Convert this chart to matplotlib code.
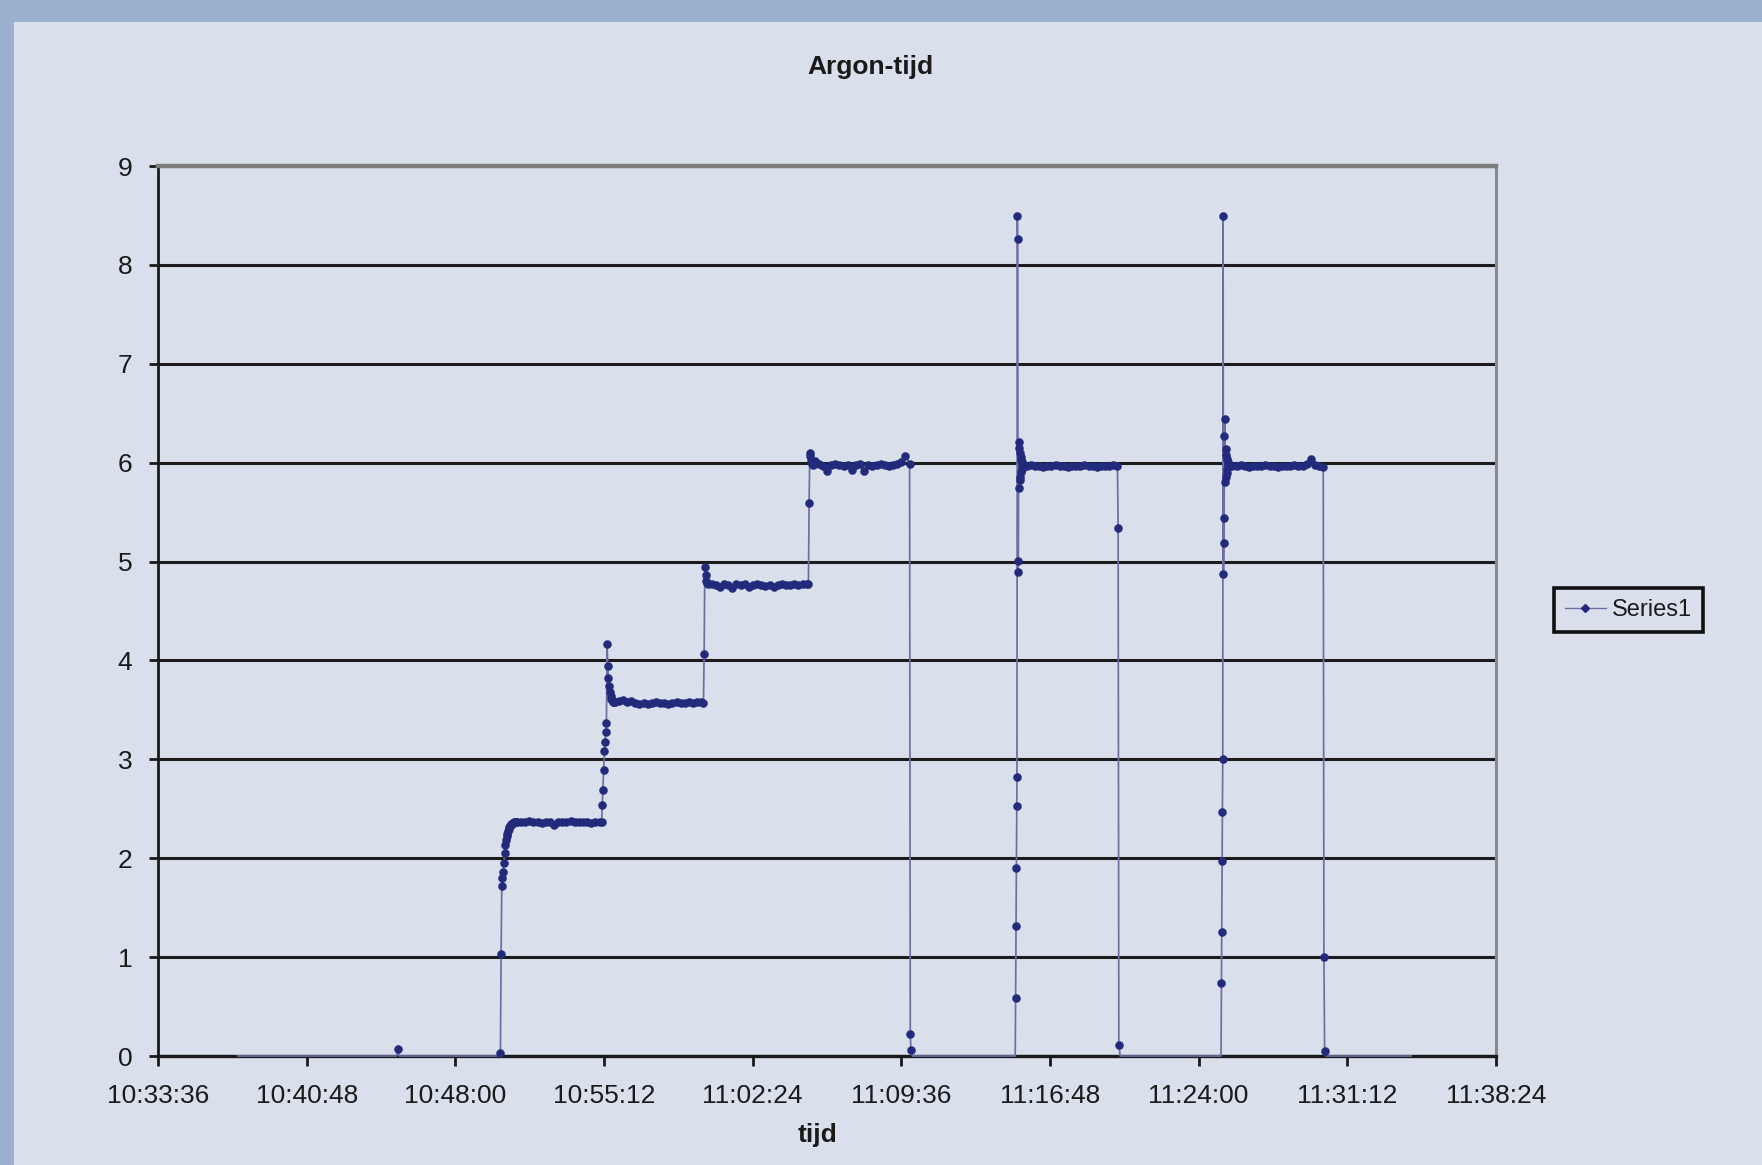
import matplotlib
matplotlib.use("Agg")
import matplotlib.pyplot as plt
from matplotlib.ticker import FixedLocator, FuncFormatter
from matplotlib.patches import Rectangle
from matplotlib.lines import Line2D
import numpy as np

# ---------------- data (Argon reading vs. tijd) ----------------
# sparse parts: explicit sample times
basis_tijd = ["10:37:28", "10:45:09", "10:45:13", "10:45:17", "10:50:09"]
basis_argon = [0.0, 0.0, 0.07, 0.0, 0.0]
val1_tijd = ["11:10:02", "11:10:04", "11:10:08", "11:15:07"]
val1_argon = [0.22, 0.06, 0.0, 0.0]
val2_tijd = ["11:20:06", "11:20:08", "11:20:12", "11:25:05"]
val2_argon = [5.34, 0.11, 0.0, 0.0]
val3_tijd = ["11:30:04", "11:30:06", "11:30:10", "11:34:17"]
val3_argon = [1.00, 0.05, 0.0, 0.0]

# dense parts: start time, logger interval (s), readings
stap1_start, stap1_dt = "10:50:11", 2
stap1_argon = [0.03, 1.03, 1.72, 1.80, 1.86, 1.95, 2.05, 2.13, 2.18, 2.22, 2.25, 2.28,
               2.30, 2.32, 2.33, 2.34, 2.35, 2.35, 2.36, 2.36, 2.37, 2.37, 2.37, 2.37, 2.37]
plat1_start, plat1_dt = "10:51:11", 12
plat1_argon = [2.37, 2.37, 2.38, 2.37, 2.37, 2.36, 2.37, 2.37, 2.34, 2.37,
               2.37, 2.37, 2.38, 2.37, 2.37, 2.37, 2.37, 2.36, 2.37, 2.37]

stap2_start, stap2_dt = "10:55:05", 2
stap2_argon = [2.37, 2.54, 2.69, 2.89, 3.08, 3.18, 3.28, 3.37, 4.17, 3.94,
               3.82, 3.74, 3.68, 3.64, 3.61, 3.60, 3.59, 3.58, 3.58, 3.58]
plat2_start, plat2_dt = "10:55:55", 12
plat2_argon = [3.59, 3.60, 3.58, 3.59, 3.57, 3.56, 3.57, 3.56, 3.57, 3.58, 3.57,
               3.57, 3.56, 3.57, 3.58, 3.57, 3.57, 3.58, 3.57, 3.58, 3.58]

stap3_start, stap3_dt = "11:00:01", 2
stap3_argon = [3.57, 4.07, 4.95, 4.86, 4.80, 4.78, 4.77]
plat3_start, plat3_dt = "11:00:25", 12
plat3_argon = [4.77, 4.76, 4.74, 4.77, 4.76, 4.73, 4.77, 4.76, 4.77, 4.74, 4.76, 4.77,
               4.76, 4.75, 4.76, 4.74, 4.76, 4.77, 4.76, 4.76, 4.77, 4.76, 4.77, 4.77]

stap4_start, stap4_dt = "11:05:06", 2
stap4_argon = [4.77, 5.59, 6.10, 6.07, 6.02, 5.99, 5.98]
plat4_start, plat4_dt = "11:05:24", 12
plat4_argon = [6.02, 5.99, 5.97, 5.92, 5.98, 5.99, 5.98, 5.97, 5.98, 5.93, 5.98, 5.99,
               5.92, 5.98, 5.97, 5.98, 5.99, 5.98, 5.97, 5.98, 5.99, 6.01, 6.07, 5.99]

piek1_start, piek1_dt = "11:15:08", 1
piek1_argon = [0.59, 1.31, 1.90, 2.53, 2.82, 8.49, 8.26, 4.89, 5.01, 6.21, 5.74, 6.15,
               5.82, 6.10, 5.86, 6.06, 5.91, 6.03, 5.94, 6.01, 5.97, 5.99, 5.97]
plat5_start, plat5_dt = "11:15:40", 12
plat5_argon = [5.97, 5.98, 5.97, 5.97, 5.96, 5.97, 5.97, 5.98, 5.97, 5.97, 5.96, 5.97,
               5.97, 5.97, 5.98, 5.97, 5.97, 5.96, 5.97, 5.97, 5.97, 5.98, 5.97]

piek2_start, piek2_dt = "11:25:06", 1
piek2_argon = [0.74, 1.25, 1.97, 2.47, 3.00, 8.49, 4.87, 5.19, 5.44, 6.27, 6.44,
               5.80, 6.14, 5.86, 6.08, 5.90, 6.04, 5.94, 6.01, 5.97, 5.99, 5.97]
plat6_start, plat6_dt = "11:25:38", 12
plat6_argon = [5.97, 5.97, 5.98, 5.97, 5.96, 5.97, 5.97, 5.97, 5.98, 5.97, 5.97, 5.96,
               5.97, 5.97, 5.97, 5.98, 5.97, 5.97, 5.99, 6.04, 5.98, 5.97, 5.96]

x_tick_labels = ["10:33:36", "10:40:48", "10:48:00", "10:55:12", "11:02:24",
                 "11:09:36", "11:16:48", "11:24:00", "11:31:12", "11:38:24"]
y_ticks = [0, 1, 2, 3, 4, 5, 6, 7, 8, 9]
title_text = "Argon-tijd"
x_title = "tijd"
series_name = "Series1"


# ---------------- assemble ----------------
def hms(s):
    h, m, sec = map(int, s.split(":"))
    return h * 3600 + m * 60 + sec


def fmt_hms(x, pos=None):
    x = int(round(x))
    return f"{x // 3600}:{(x % 3600) // 60:02d}:{x % 60:02d}"


times, values = [], []
for tl, vl in [(basis_tijd, basis_argon), (val1_tijd, val1_argon),
               (val2_tijd, val2_argon), (val3_tijd, val3_argon)]:
    times += [hms(t) for t in tl]
    values += list(vl)
for st, dt, vl in [(stap1_start, stap1_dt, stap1_argon), (plat1_start, plat1_dt, plat1_argon),
                   (stap2_start, stap2_dt, stap2_argon), (plat2_start, plat2_dt, plat2_argon),
                   (stap3_start, stap3_dt, stap3_argon), (plat3_start, plat3_dt, plat3_argon),
                   (stap4_start, stap4_dt, stap4_argon), (plat4_start, plat4_dt, plat4_argon),
                   (piek1_start, piek1_dt, piek1_argon), (plat5_start, plat5_dt, plat5_argon),
                   (piek2_start, piek2_dt, piek2_argon), (plat6_start, plat6_dt, plat6_argon)]:
    t0 = hms(st)
    times += [t0 + i * dt for i in range(len(vl))]
    values += list(vl)

order = np.argsort(times, kind="stable")
t_arr = np.array(times, dtype=float)[order]
v_arr = np.array(values, dtype=float)[order]

# ---------------- figure ----------------
plt.rcParams["font.family"] = ["Liberation Sans", "DejaVu Sans"]
W, H = 1762, 1165
BORDER = "#9BB0CE"
PANEL = "#D9E0EC"
LINE_C = "#6e6ea2"
MARK_C = "#222a7c"

fig = plt.figure(figsize=(W / 100, H / 100), dpi=100, facecolor=BORDER)
fig.patches.append(Rectangle((13.5 / W, 0), 1 - 13.5 / W, 1 - 22 / H,
                             transform=fig.transFigure, facecolor=PANEL,
                             edgecolor="none", zorder=-10))

ax = fig.add_axes([158 / W, 1 - 1056 / H, (1496 - 158) / W, (1056 - 166) / H])
ax.set_zorder(1)
ax.set_facecolor(PANEL)

ax.plot(t_arr, v_arr, color=LINE_C, lw=1.25, marker="o", markersize=5.8,
        markerfacecolor=MARK_C, markeredgecolor=MARK_C, markeredgewidth=0.3,
        markevery=list(v_arr > 0.02), zorder=3, clip_on=False)

x_ticks = [hms(s) for s in x_tick_labels]
ax.set_xlim(x_ticks[0], x_ticks[-1])
ax.set_ylim(y_ticks[0], y_ticks[-1])
ax.xaxis.set_major_locator(FixedLocator(x_ticks))
ax.xaxis.set_major_formatter(FuncFormatter(fmt_hms))
ax.yaxis.set_major_locator(FixedLocator(y_ticks))

ax.yaxis.grid(True, color="#1c1c1c", lw=2.2)
ax.set_axisbelow(True)

for side, col, lw in [("left", "#1a1a1a", 2.0), ("bottom", "#1a1a1a", 2.4),
                      ("top", "#7c7c7c", 3.2), ("right", "#8a8a8a", 2.2)]:
    ax.spines[side].set_color(col)
    ax.spines[side].set_linewidth(lw)

ax.tick_params(axis="x", direction="out", length=7.5, width=2.0, color="#1a1a1a",
               pad=12.5, labelsize=19, labelcolor="#1a1a1a")
ax.tick_params(axis="y", direction="out", length=6.5, width=2.0, color="#1a1a1a",
               pad=12, labelsize=19, labelcolor="#1a1a1a")

fig.text(870 / W, 1 - 67 / H, title_text, ha="center", va="center",
         fontsize=19, fontweight="bold", color="#1a1a1a")
fig.text(817 / W, 1 - 1135 / H, x_title, ha="center", va="center",
         fontsize=19, fontweight="bold", color="#1a1a1a")

handle = Line2D([], [], color=LINE_C, lw=1.0, marker="D", markersize=3.6,
                markerfacecolor=MARK_C, markeredgecolor=MARK_C)
leg = fig.legend([handle], [series_name], loc="center left",
                 bbox_to_anchor=(1554 / W, 1 - 610 / H), frameon=True,
                 fancybox=False, edgecolor="#111111", facecolor=PANEL,
                 framealpha=1, fontsize=17, handlelength=1.75,
                 handletextpad=0.25, borderpad=0.45, borderaxespad=0,
                 numpoints=1)
leg.get_frame().set_linewidth(2.6)
for txt in leg.get_texts():
    txt.set_color("#1a1a1a")

fig.savefig("out.png", dpi=100, facecolor=BORDER)
